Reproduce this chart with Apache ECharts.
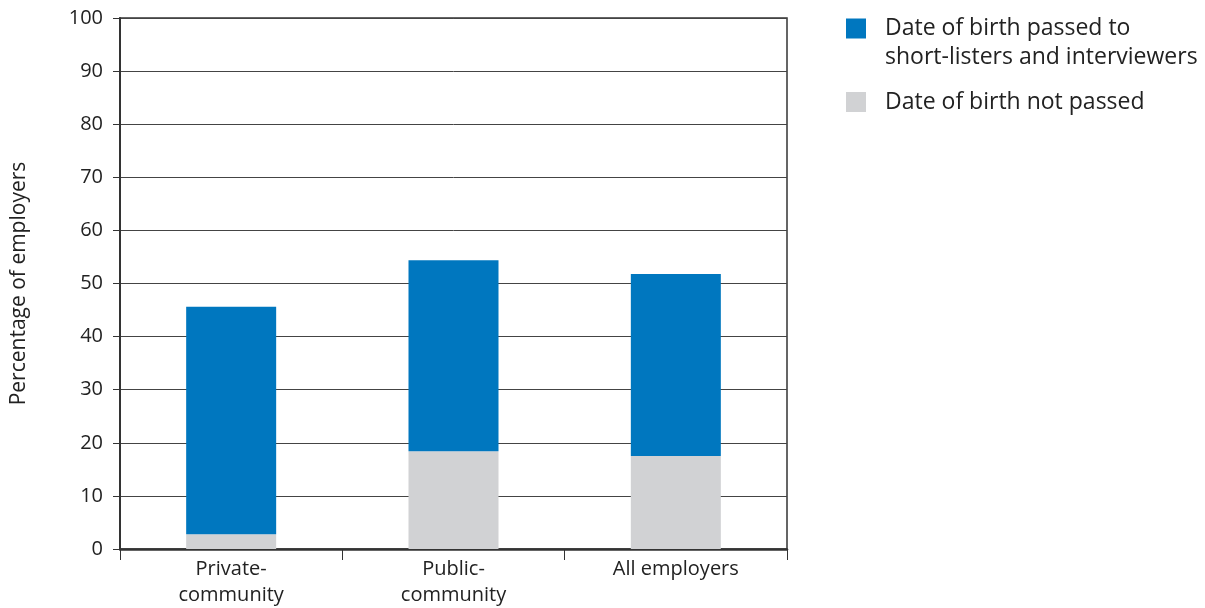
<!DOCTYPE html>
<html>
<head>
<meta charset="utf-8">
<script src="https://cdn.jsdelivr.net/npm/echarts@6/dist/echarts.min.js"></script>
<style>
  html, body { margin: 0; padding: 0; background: #fff; }
  #chart { width: 1205px; height: 608px; }
</style>
</head>
<body>
<div id="chart"></div>
<script>
// Employer practice: is the applicant's date of birth passed on?
const categories = ['Private-\ncommunity', 'Public-\ncommunity', 'All employers'];
const notPassed = [2.8, 18.4, 17.5];
const passed = [42.8, 36.0, 34.3];
const seriesNames = ['Date of birth passed to\nshort-listers and interviewers', 'Date of birth not passed'];
const yTicks = { min: 0, max: 100, interval: 10 };

const FONT = '"Open Sans", "Noto Sans", sans-serif';
const TEXT = '#222';
const BLUE = '#0077BF';
const GREY = '#D1D2D4';

const chart = echarts.init(document.getElementById('chart'), null, { renderer: 'canvas' });

const legendBase = {
  left: 846,
  orient: 'vertical',
  padding: 0,
  itemWidth: 20, itemHeight: 20, itemStyle: { borderWidth: 0 },
  itemGap: 0,
  icon: 'rect',
  selectedMode: false,
  // left padding widens the space between swatch and label
  textStyle: { fontFamily: FONT, fontSize: 23, lineHeight: 29, color: TEXT, padding: [0, 0, 0, 14] }
};

chart.setOption({
  animation: false,
  backgroundColor: '#fff',
  textStyle: { fontFamily: FONT, color: TEXT },
  grid: {
    left: 120, right: 418, top: 18, bottom: 57,
    show: true, borderColor: '#333', borderWidth: 1.5, backgroundColor: 'transparent'
  },
  legend: [
    Object.assign({}, legendBase, {
      data: [seriesNames[0]],
      top: -15,
      // a blank first line keeps the swatch level with the first line of the label
      formatter: name => '\n' + name
    }),
    Object.assign({}, legendBase, {
      data: [seriesNames[1]],
      top: 87.5
    })
  ],
  xAxis: {
    type: 'category',
    data: categories,
    boundaryGap: true,
    axisLine: { show: true, lineStyle: { color: '#333', width: 2.5 } },
    axisTick: { show: true, length: 11, lineStyle: { color: '#333', width: 1 } },
    axisLabel: { color: TEXT, fontSize: 20, lineHeight: 26, margin: 7, fontFamily: FONT }
  },
  yAxis: {
    type: 'value',
    min: yTicks.min, max: yTicks.max, interval: yTicks.interval,
    name: 'Percentage of employers',
    nameLocation: 'middle',
    nameGap: 90,
    nameTextStyle: { fontSize: 21, color: TEXT, fontFamily: FONT },
    axisLine: { show: true, lineStyle: { color: '#333', width: 2 } },
    axisTick: { show: true, length: 7, lineStyle: { color: '#333', width: 1 } },
    axisLabel: { color: TEXT, fontSize: 20, margin: 17, fontFamily: FONT },
    splitLine: { show: true, lineStyle: { color: '#444', width: 1 } }
  },
  series: [
    {
      name: seriesNames[1],
      type: 'bar',
      stack: 'dob',
      data: notPassed,
      barWidth: 90,
      itemStyle: { color: GREY },
      z: 3
    },
    {
      name: seriesNames[0],
      type: 'bar',
      stack: 'dob',
      data: passed,
      barWidth: 90,
      itemStyle: { color: BLUE },
      z: 3
    }
  ]
});
</script>
</body>
</html>
